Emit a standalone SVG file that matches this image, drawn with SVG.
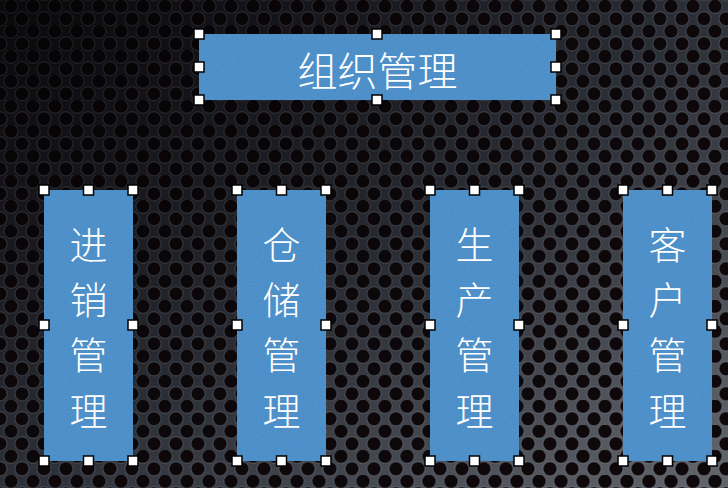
<svg xmlns="http://www.w3.org/2000/svg" width="728" height="488" viewBox="0 0 728 488">
<defs>
<linearGradient id="metal" x1="0" y1="0" x2="1" y2="1">
<stop offset="0" stop-color="#17131a"/>
<stop offset="0.5" stop-color="#30343c"/>
<stop offset="1" stop-color="#62666b"/>
</linearGradient>
<pattern id="holes" width="22" height="25" patternUnits="userSpaceOnUse">
<circle cx="11" cy="6.25" r="7" fill="#0e080b" stroke="#7a8696" stroke-opacity="0.35" stroke-width="1.3"/>
<circle cx="0" cy="18.75" r="7" fill="#0e080b" stroke="#7a8696" stroke-opacity="0.35" stroke-width="1.3"/>
<circle cx="22" cy="18.75" r="7" fill="#0e080b" stroke="#7a8696" stroke-opacity="0.35" stroke-width="1.3"/>
<circle cx="0" cy="-6.25" r="7" fill="#0e080b" stroke="#7a8696" stroke-opacity="0.35" stroke-width="1.3"/>
<circle cx="22" cy="-6.25" r="7" fill="#0e080b" stroke="#7a8696" stroke-opacity="0.35" stroke-width="1.3"/>
</pattern>
<radialGradient id="shade" cx="0" cy="0" r="1.2">
<stop offset="0" stop-color="#000" stop-opacity="0.6"/>
<stop offset="0.6" stop-color="#000" stop-opacity="0.2"/>
<stop offset="1" stop-color="#000" stop-opacity="0"/>
</radialGradient>
<filter id="noise" x="0" y="0" width="100%" height="100%">
<feTurbulence type="fractalNoise" baseFrequency="0.9" numOctaves="2" seed="3" result="n"/>
<feColorMatrix in="n" type="matrix" values="0 0 0 0 1  0 0 0 0 1  0 0 0 0 1  0 0 0 0.06 0" result="w"/>
<feComposite in="w" in2="SourceGraphic" operator="in" result="wn"/>
<feMerge><feMergeNode in="SourceGraphic"/><feMergeNode in="wn"/></feMerge>
</filter>
</defs>
<style>
.box{fill:#3f8bc7;filter:url(#noise)}
.h{fill:#ffffff;stroke:#000000;stroke-width:1.5}
.t{font-family:"Noto Sans CJK SC","Noto Sans",sans-serif;font-size:38px;font-weight:300;fill:#ffffff;text-anchor:middle;dominant-baseline:central}
.tt{font-size:40px}
</style>
<g id="background">
<rect width="728" height="488" fill="url(#metal)"/>
<rect width="728" height="488" fill="url(#holes)"/>
<rect width="728" height="488" fill="url(#shade)"/>
</g>
<g id="connectors"></g>
<g id="node-top">
<rect class="box" x="199" y="34" width="357" height="66"/>
<text class="t tt" x="377.5" y="69">组织管理</text>
<rect class="h" x="194" y="29" width="10" height="10"/>
<rect class="h" x="372" y="29" width="10" height="10"/>
<rect class="h" x="551" y="29" width="10" height="10"/>
<rect class="h" x="194" y="62" width="10" height="10"/>
<rect class="h" x="551" y="62" width="10" height="10"/>
<rect class="h" x="194" y="95" width="10" height="10"/>
<rect class="h" x="372" y="95" width="10" height="10"/>
<rect class="h" x="551" y="95" width="10" height="10"/>
</g>
<g id="node-1">
<rect class="box" x="44" y="190" width="89" height="271"/>
<text class="t" x="88.5" y="242">进</text>
<text class="t" x="88.5" y="297">销</text>
<text class="t" x="88.5" y="352">管</text>
<text class="t" x="88.5" y="408">理</text>
<rect class="h" x="39" y="185" width="10" height="10"/>
<rect class="h" x="83.5" y="185" width="10" height="10"/>
<rect class="h" x="128" y="185" width="10" height="10"/>
<rect class="h" x="39" y="320" width="10" height="10"/>
<rect class="h" x="128" y="320" width="10" height="10"/>
<rect class="h" x="39" y="456" width="10" height="10"/>
<rect class="h" x="83.5" y="456" width="10" height="10"/>
<rect class="h" x="128" y="456" width="10" height="10"/>
</g>
<g id="node-2">
<rect class="box" x="237" y="190" width="89" height="271"/>
<text class="t" x="281.5" y="242">仓</text>
<text class="t" x="281.5" y="297">储</text>
<text class="t" x="281.5" y="352">管</text>
<text class="t" x="281.5" y="408">理</text>
<rect class="h" x="232" y="185" width="10" height="10"/>
<rect class="h" x="276.5" y="185" width="10" height="10"/>
<rect class="h" x="321" y="185" width="10" height="10"/>
<rect class="h" x="232" y="320" width="10" height="10"/>
<rect class="h" x="321" y="320" width="10" height="10"/>
<rect class="h" x="232" y="456" width="10" height="10"/>
<rect class="h" x="276.5" y="456" width="10" height="10"/>
<rect class="h" x="321" y="456" width="10" height="10"/>
</g>
<g id="node-3">
<rect class="box" x="430" y="190" width="89" height="271"/>
<text class="t" x="474.5" y="242">生</text>
<text class="t" x="474.5" y="297">产</text>
<text class="t" x="474.5" y="352">管</text>
<text class="t" x="474.5" y="408">理</text>
<rect class="h" x="425" y="185" width="10" height="10"/>
<rect class="h" x="469.5" y="185" width="10" height="10"/>
<rect class="h" x="514" y="185" width="10" height="10"/>
<rect class="h" x="425" y="320" width="10" height="10"/>
<rect class="h" x="514" y="320" width="10" height="10"/>
<rect class="h" x="425" y="456" width="10" height="10"/>
<rect class="h" x="469.5" y="456" width="10" height="10"/>
<rect class="h" x="514" y="456" width="10" height="10"/>
</g>
<g id="node-4">
<rect class="box" x="623" y="190" width="89" height="271"/>
<text class="t" x="667.5" y="242">客</text>
<text class="t" x="667.5" y="297">户</text>
<text class="t" x="667.5" y="352">管</text>
<text class="t" x="667.5" y="408">理</text>
<rect class="h" x="618" y="185" width="10" height="10"/>
<rect class="h" x="662.5" y="185" width="10" height="10"/>
<rect class="h" x="707" y="185" width="10" height="10"/>
<rect class="h" x="618" y="320" width="10" height="10"/>
<rect class="h" x="707" y="320" width="10" height="10"/>
<rect class="h" x="618" y="456" width="10" height="10"/>
<rect class="h" x="662.5" y="456" width="10" height="10"/>
<rect class="h" x="707" y="456" width="10" height="10"/>
</g>
</svg>
